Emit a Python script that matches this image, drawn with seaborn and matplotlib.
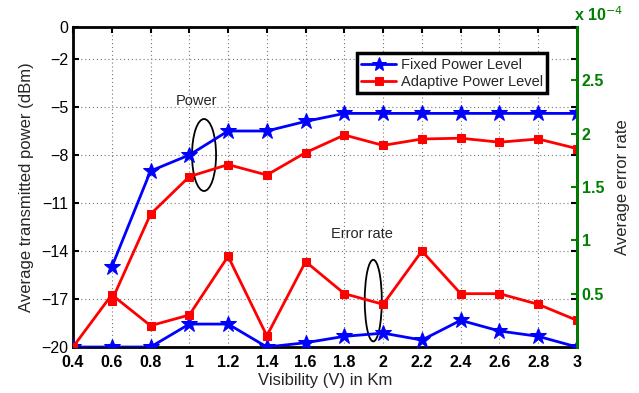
import numpy as np
import pandas as pd
import matplotlib
matplotlib.use("Agg")
import matplotlib.pyplot as plt
from matplotlib.patches import Ellipse
import seaborn as sns

visibility = [0.4, 0.6, 0.8, 1.0, 1.2, 1.4, 1.6, 1.8, 2.0, 2.2, 2.4, 2.6, 2.8, 3.0]
fixed_power = [np.nan, -15.0, -9.0, -8.0, -6.5, -6.5, -5.9, -5.4, -5.4, -5.4, -5.4, -5.4, -5.4, -5.4]
adaptive_power = [np.nan, -17.1, -11.7, -9.35, -8.6, -9.25, -7.85, -6.75, -7.4, -7.0, -6.95, -7.2, -7.0, -7.6]
# error rates in units of 1e-4
fixed_error = [0.0, 0.0, 0.0, 0.215, 0.215, 0.0, 0.04, 0.10, 0.13, 0.065, 0.25, 0.15, 0.10, 0.0]
adaptive_error = [0.0, 0.49, 0.20, 0.30, 0.85, 0.105, 0.80, 0.50, 0.40, 0.90, 0.50, 0.50, 0.40, 0.25]

left_ticks = [0, -2, -5, -8, -11, -14, -17, -20]
right_ticks = [0.5, 1, 1.5, 2, 2.5]
x_ticks = visibility

sns.set_style("white")
plt.rcParams['font.family'] = ['Liberation Sans', 'DejaVu Sans']

blue = "#0000FF"
red = "#FF0000"
green = "#007F00"

df = pd.DataFrame({"x": visibility, "fp": fixed_power, "ap": adaptive_power,
                   "fe": fixed_error, "ae": adaptive_error})

fig = plt.figure(figsize=(6.39, 3.93), dpi=100)
ax = fig.add_axes([73/639, 46/393, 504/639, 320/393])
ax2 = ax.twinx()

lw = 2.0
sns.lineplot(data=df, x="x", y="fp", ax=ax, color=blue, marker="*", markersize=12,
             markeredgecolor=blue, linewidth=lw, label="Fixed Power Level")
sns.lineplot(data=df, x="x", y="ap", ax=ax, color=red, marker="s", markersize=6,
             markeredgecolor=red, linewidth=lw, label="Adaptive Power Level")
sns.lineplot(data=df, x="x", y="fe", ax=ax2, color=blue, marker="*", markersize=12,
             markeredgecolor=blue, linewidth=lw, legend=False)
sns.lineplot(data=df, x="x", y="ae", ax=ax2, color=red, marker="s", markersize=6,
             markeredgecolor=red, linewidth=lw, legend=False)

ax.set_xlim(0.4, 3.0)
ax.set_ylim(-20, 0)
ax2.set_ylim(0, 3)
ax.set_xticks(x_ticks)
ax.set_xticklabels([f"{v:g}" for v in x_ticks], fontweight="bold")
ax.set_yticks(left_ticks)
ax.set_yticklabels([str(v).replace("-", "\u2212") for v in left_ticks])
ax2.set_yticks(right_ticks)
ax2.set_yticklabels([f"{v:g}" for v in right_ticks], color=green, fontweight="bold")

ax.grid(True, linestyle=(0, (1, 2.5)), color="#777777", linewidth=0.8)
ax.tick_params(axis="both", direction="in", length=4, width=1.5, labelsize=11.5,
               top=True, right=True, colors="black")
ax.tick_params(axis="x", pad=6)
ax2.tick_params(axis="y", direction="in", length=4, width=1.5, labelsize=11.5,
                colors=green)
for s in ["left", "bottom", "top", "right"]:
    ax.spines[s].set_linewidth(2.0)
    ax.spines[s].set_color("black")
for s in ["left", "bottom", "top"]:
    ax2.spines[s].set_visible(False)
ax2.spines["right"].set_color(green)
ax2.spines["right"].set_linewidth(2.0)

ax.set_xlabel("Visibility (V) in Km", fontsize=12, labelpad=2)
ax.set_ylabel("Average transmitted power (dBm)", fontsize=12, labelpad=5)
ax2.set_ylabel("Average error rate", fontsize=12, labelpad=8)
ax2.text(0.995, 1.01, "x 10$^{-4}$", transform=ax2.transAxes, color=green,
         fontsize=11.5, fontweight="bold", ha="left", va="bottom")

ax.text(1.035, -4.63, "Power", fontsize=10.5, ha="center", va="center")
ax.text(1.89, -12.94, "Error rate", fontsize=10.5, ha="center", va="center")
ax.add_patch(Ellipse((1.076, -8.0), 0.124, 4.5, fill=False, edgecolor="black", linewidth=1.3))
ax.add_patch(Ellipse((1.949, -17.1), 0.088, 5.1, fill=False, edgecolor="black", linewidth=1.3))

handles, labels = ax.get_legend_handles_labels()
ax.get_legend().remove()
leg = ax2.legend(handles, labels, loc="upper right", bbox_to_anchor=(0.955, 0.94),
                 fontsize=10.5, frameon=True, fancybox=False, framealpha=1,
                 edgecolor="black", handlelength=2.4, borderpad=0.3,
                 labelspacing=0.2, handletextpad=0.3, markerscale=0.9)
leg.get_frame().set_linewidth(2.5)

fig.savefig("out.png", dpi=100)
